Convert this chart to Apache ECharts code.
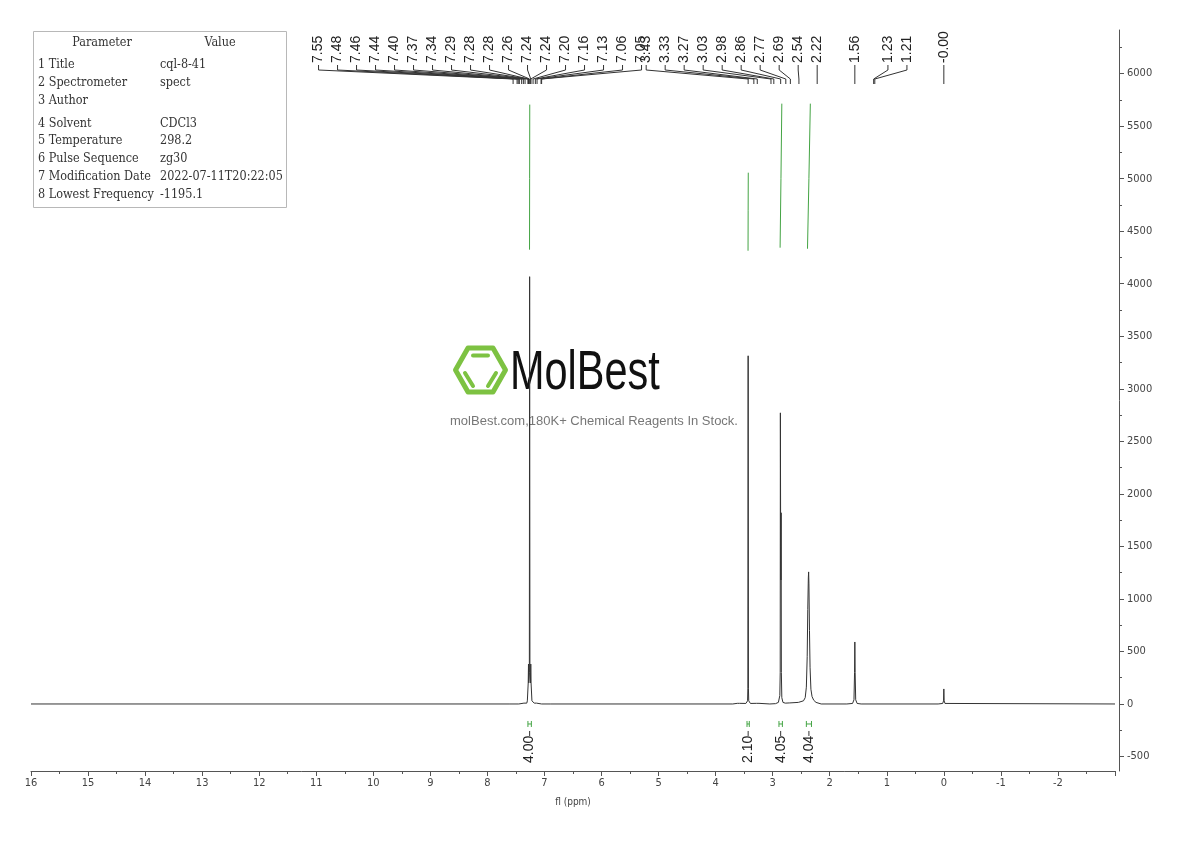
<!DOCTYPE html>
<html><head><meta charset="utf-8">
<script src="https://cdn.jsdelivr.net/npm/echarts@6/dist/echarts.min.js"></script>
<style>html,body{margin:0;padding:0;background:#fff}#c{width:1190px;height:841px}</style>
</head><body><div id="c"></div>
<script>
// ---------------- data ----------------
const spectrum = [
  [16,0],[7.62,0],[7.45,0],[7.36,8],[7.33,20],[7.31,8],[7.30,30],[7.285,200],[7.28,380],[7.275,200],
  [7.265,300],[7.26,4067],[7.255,300],[7.245,200],[7.24,380],[7.235,200],[7.22,30],[7.18,8],
  [7.16,20],[7.14,8],[7.05,0],[6.90,0],[3.70,0],[3.62,6],[3.60,12],[3.58,6],[3.47,5],[3.44,30],
  [3.435,150],[3.43,3314],[3.425,150],[3.42,30],[3.39,5],[3.28,6],[3.26,12],[3.24,6],[3.05,0],
  [2.95,3],[2.90,15],[2.875,80],[2.868,300],[2.865,2771],[2.860,1500],[2.856,1180],[2.852,1820],
  [2.848,300],[2.84,60],[2.82,15],[2.78,8],[2.70,10],[2.55,15],[2.46,30],[2.43,60],[2.41,160],
  [2.395,450],[2.385,900],[2.375,1200],[2.37,1257],[2.365,1150],[2.355,700],[2.345,350],
  [2.33,140],[2.31,70],[2.28,35],[2.24,15],[2.15,0],[1.70,0],[1.60,5],[1.575,40],[1.565,300],
  [1.56,590],[1.555,300],[1.545,40],[1.52,5],[1.45,0],[0.10,0],[0.02,5],[0.005,30],[0.0,143],
  [-0.005,30],[-0.02,5],[-3,0]
];
const peakLabels = ['7.55','7.48','7.46','7.44','7.40','7.37','7.34','7.29','7.28','7.28','7.26','7.24',
  '7.24','7.20','7.16','7.13','7.06','7.05','3.43','3.33','3.27','3.03','2.98','2.86','2.77','2.69',
  '2.54','2.22','1.56','1.23','1.21','-0.00'];
const peakPpm = peakLabels.map(Number);
const integralLabels = ['4.00','2.10','4.05','4.04'];
const integralFrom = [7.29, 3.45, 2.89, 2.41];
const integralTo = [7.23, 3.41, 2.83, 2.32];
const integralCurve1 = [[7.262,4324],[7.26,5000],[7.258,5705]];
const integralCurve2 = [[3.432,4314],[3.43,4700],[3.428,5057]];
const integralCurve3 = [[2.87,4343],[2.855,5000],[2.84,5714]];
const integralCurve4 = [[2.39,4333],[2.365,5000],[2.34,5714]];
const yTickValues = [-500,0,500,1000,1500,2000,2500,3000,3500,4000,4500,5000,5500,6000];
const yMinorValues = [-250,250,750,1250,1750,2250,2750,3250,3750,4250,4750,5250,5750,6250];
const paramNames = ['1 Title','2 Spectrometer','3 Author','4 Solvent','5 Temperature','6 Pulse Sequence','7 Modification Date','8 Lowest Frequency'];
const paramValues = ['cql-8-41','spect','','CDCl3','298.2','zg30','2022-07-11T20:22:05','-1195.1'];

// ---------------- layout ----------------
const AXIS_FONT = '"DejaVu Sans Condensed", "Liberation Sans", sans-serif';
const LABEL_STEP = 19;
const labelGroups = [
  {from:0, to:17, startPpm:10.96},
  {from:18, to:27, endAtPeak:true},
  {from:28, to:28, endAtPeak:true},
  {from:29, to:30, startPpm:0.98},
  {from:31, to:31, endAtPeak:true}
];
function labelX(i, api){
  for (const g of labelGroups) {
    if (i >= g.from && i <= g.to) {
      if (g.endAtPeak) return api.coord([peakPpm[g.to],0])[0] - (g.to - i) * LABEL_STEP;
      return api.coord([g.startPpm,0])[0] + (i - g.from) * LABEL_STEP;
    }
  }
}
const GREEN = '#44a444';
const chart = echarts.init(document.getElementById('c'), null, {renderer:'canvas'});

const TFONT = '12.5px "DejaVu Serif Condensed", "Liberation Serif", serif';
const tableRows = [43,65,83,101,124,141,159,177,195];
const tableChildren = [
  {type:'rect', shape:{x:33.5,y:31.5,width:253,height:176}, style:{fill:'#fff',stroke:'#b8b8b8',lineWidth:1}},
  {type:'text', x:102, y:tableRows[0], style:{text:'Parameter', font:TFONT, fill:'#333', align:'center', verticalAlign:'middle'}},
  {type:'text', x:220, y:tableRows[0], style:{text:'Value', font:TFONT, fill:'#333', align:'center', verticalAlign:'middle'}}
];
paramNames.forEach((n,i)=>{
  tableChildren.push({type:'text', x:38, y:tableRows[i+1], style:{text:n, font:TFONT, fill:'#333', align:'left', verticalAlign:'middle'}});
  tableChildren.push({type:'text', x:160, y:tableRows[i+1], style:{text:paramValues[i], font:TFONT, fill:'#333', align:'left', verticalAlign:'middle'}});
});

const LOGO = '#7dc242';
const watermark = [
  {type:'polygon', shape:{points:[[455.5,370],[468,348],[493,348],[505.5,370],[493,392],[468,392]]},
   style:{fill:'none', stroke:LOGO, lineWidth:5, lineJoin:'round'}},
  {type:'line', shape:{x1:473,y1:355.5,x2:488,y2:355.5}, style:{stroke:LOGO, lineWidth:4, lineCap:'round'}},
  {type:'line', shape:{x1:465,y1:373,x2:473,y2:386}, style:{stroke:LOGO, lineWidth:4, lineCap:'round'}},
  {type:'line', shape:{x1:496,y1:373,x2:488,y2:386}, style:{stroke:LOGO, lineWidth:4, lineCap:'round'}},
  {type:'text', x:510, y:374, scaleX:0.74,
   style:{text:'MolBest', font:'56px "Liberation Sans", sans-serif', fill:'#111', align:'left', verticalAlign:'middle'}},
  {type:'text', x:594, y:421, style:{text:'molBest.com,180K+ Chemical Reagents In Stock.', font:'13px "Liberation Sans", sans-serif', fill:'#777', align:'center', verticalAlign:'middle'}}
];

const option = {
  animation:false,
  backgroundColor:'#fff',
  grid:{left:31, right:75, top:30, bottom:70},
  xAxis:{
    type:'value', min:-3, max:16, interval:1, inverse:true,
    axisLine:{onZero:false, lineStyle:{color:'#555', width:1}},
    axisTick:{show:true, length:5, lineStyle:{color:'#555'}},
    minorTick:{show:true, splitNumber:2, length:3, lineStyle:{color:'#555'}},
    splitLine:{show:false},
    axisLabel:{formatter:v => v === -3 ? '' : String(v), fontFamily:AXIS_FONT, fontSize:11, color:'#444', margin:7, showMinLabel:true, showMaxLabel:true},
    name:'fl (ppm)', nameLocation:'middle', nameGap:26,
    nameTextStyle:{fontFamily:AXIS_FONT, fontSize:10, color:'#444'}
  },
  yAxis:[
    {type:'value', position:'right', min:-638, max:6415, offset:4,
     axisLine:{show:true, onZero:false, lineStyle:{color:'#555'}},
     axisTick:{show:true, length:5, customValues:yTickValues, lineStyle:{color:'#555'}},
     axisLabel:{customValues:yTickValues, formatter:v => String(v), fontFamily:AXIS_FONT, fontSize:11, color:'#444', margin:8},
     splitLine:{show:false}},
    {type:'value', position:'right', min:-638, max:6415, offset:4,
     axisLine:{show:false, onZero:false},
     axisTick:{show:true, length:3, customValues:yMinorValues, lineStyle:{color:'#555'}},
     axisLabel:{show:false}, splitLine:{show:false}}
  ],
  graphic:[
    {type:'group', z:0, children:watermark},
    {type:'group', z:5, children:tableChildren}
  ],
  series:[
    {type:'line', data:spectrum, showSymbol:false, symbol:'none', sampling:null,
     lineStyle:{color:'#333', width:1}, z:3},
    {type:'line', data:integralCurve1, showSymbol:false, symbol:'none', lineStyle:{color:GREEN, width:1}},
    {type:'line', data:integralCurve2, showSymbol:false, symbol:'none', lineStyle:{color:GREEN, width:1}},
    {type:'line', data:integralCurve3, showSymbol:false, symbol:'none', lineStyle:{color:GREEN, width:1}},
    {type:'line', data:integralCurve4, showSymbol:false, symbol:'none', lineStyle:{color:GREEN, width:1}},
    {type:'custom', clip:false, data:peakPpm.map(v => [v, 0]), z:4,
     renderItem:(params, api) => {
       const i = params.dataIndex;
       const px = api.coord([api.value(0), 0])[0];
       const lx = labelX(i, api);
       const top = params.coordSys.y;
       return {type:'group', children:[
         {type:'text', x:lx, y:top+33, rotation:Math.PI/2,
          style:{text:peakLabels[i], font:'14px "Liberation Sans", sans-serif', fill:'#222', align:'left', verticalAlign:'middle'}},
         {type:'polyline', shape:{points:[[lx,top+35],[lx,top+40],[px,top+49],[px,top+54]]},
          style:{stroke:'#333', lineWidth:1, fill:null}}
       ]};
     }},
    {type:'custom', clip:false, data:integralFrom.map((f,i) => [f, 0]), z:4,
     renderItem:(params, api) => {
       const i = params.dataIndex;
       const x1 = api.coord([integralFrom[i], 0])[0];
       const x2 = api.coord([integralTo[i], 0])[0];
       const y0 = api.coord([0, 0])[1];
       const xc = (x1 + x2) / 2;
       return {type:'group', children:[
         {type:'line', shape:{x1:x1,y1:y0+17,x2:x1,y2:y0+23}, style:{stroke:GREEN, lineWidth:1}},
         {type:'line', shape:{x1:x2,y1:y0+17,x2:x2,y2:y0+23}, style:{stroke:GREEN, lineWidth:1}},
         {type:'line', shape:{x1:x1,y1:y0+20,x2:x2,y2:y0+20}, style:{stroke:GREEN, lineWidth:1}},
         {type:'line', shape:{x1:xc,y1:y0+27,x2:xc,y2:y0+32}, style:{stroke:'#333', lineWidth:1}},
         {type:'text', x:xc, y:y0+59, rotation:Math.PI/2,
          style:{text:integralLabels[i], font:'14px "Liberation Sans", sans-serif', fill:'#222', align:'left', verticalAlign:'middle'}}
       ]};
     }}
  ]
};
chart.setOption(option);
</script>
</body></html>
